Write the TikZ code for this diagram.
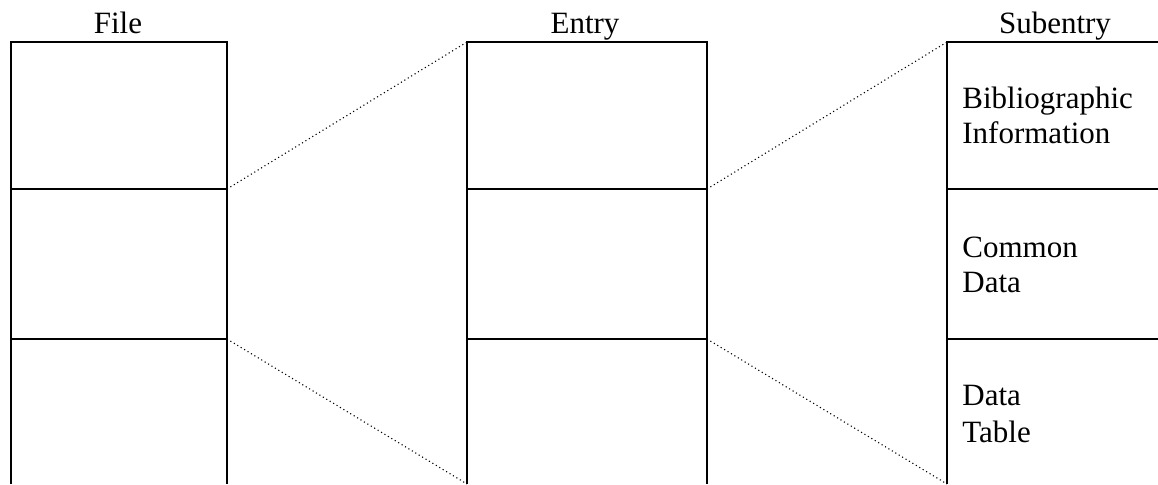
\documentclass[tikz,border=0pt]{standalone}
\usepackage{fontspec}
\setmainfont{Liberation Serif}
\begin{document}
\begin{tikzpicture}[x=0.5pt,y=-0.5pt,
  cell/.style={inner sep=0pt,outer sep=0pt,anchor=north west},
  border/.style={line width=1.3pt,line cap=butt},
  link/.style={line width=0.55pt,dash pattern=on 0.55pt off 1.45pt},
  head/.style={font=\fontsize{15.5}{17.5}\selectfont,anchor=base,inner sep=0pt},
  lbl/.style={font=\fontsize{15.5}{17.5}\selectfont,anchor=base west,inner sep=0pt}]
\useasboundingbox (0,0) rectangle (1158,484);
% File column
\node[cell,minimum width=108pt,minimum height=73.5pt] (f1) at (11,42) {};
\node[cell,minimum width=108pt,minimum height=75pt] (f2) at (11,189) {};
\node[cell,minimum width=108pt,minimum height=72.5pt] (f3) at (11,339) {};
% Entry column
\node[cell,minimum width=120pt,minimum height=73.5pt] (e1) at (467,42) {};
\node[cell,minimum width=120pt,minimum height=75pt] (e2) at (467,189) {};
\node[cell,minimum width=120pt,minimum height=72.5pt] (e3) at (467,339) {};
% Subentry column
\node[cell,minimum width=115pt,minimum height=73.5pt] (s1) at (947,42) {};
\node[cell,minimum width=115pt,minimum height=75pt] (s2) at (947,189) {};
\node[cell,minimum width=115pt,minimum height=72.5pt] (s3) at (947,339) {};
% borders
\foreach \c in {f,e} {
  \draw[border] (\c3.south west) -- (\c1.north west) -- (\c1.north east) -- (\c3.south east);
  \draw[border] (\c1.south west) -- (\c1.south east);
  \draw[border] (\c2.south west) -- (\c2.south east);
}
\draw[border] (s3.south west) -- (s1.north west) -- (s1.north east);
\draw[border] (s1.south west) -- (s1.south east);
\draw[border] (s2.south west) -- (s2.south east);
% headings
\node[head] (hf) at (118,33) {File};
\node[head] (he) at (585,33) {Entry};
\node[head] (hs) at (1055,33) {Subentry};
% labels
\node[lbl] (l1) at (962,108) {Bibliographic};
\node[lbl] (l2) at (962,143) {Information};
\node[lbl] (l3) at (962,257) {Common};
\node[lbl] (l4) at (962,292) {Data};
\node[lbl] (l5) at (962,405) {Data};
\node[lbl] (l6) at (962,442) {Table};
% dotted connectors
\draw[link] (f1.south east) -- (e1.north west);
\draw[link] (f3.north east) -- (e3.south west);
\draw[link] (e1.south east) -- (s1.north west);
\draw[link] (e3.north east) -- (s3.south west);
\end{tikzpicture}
\end{document}
